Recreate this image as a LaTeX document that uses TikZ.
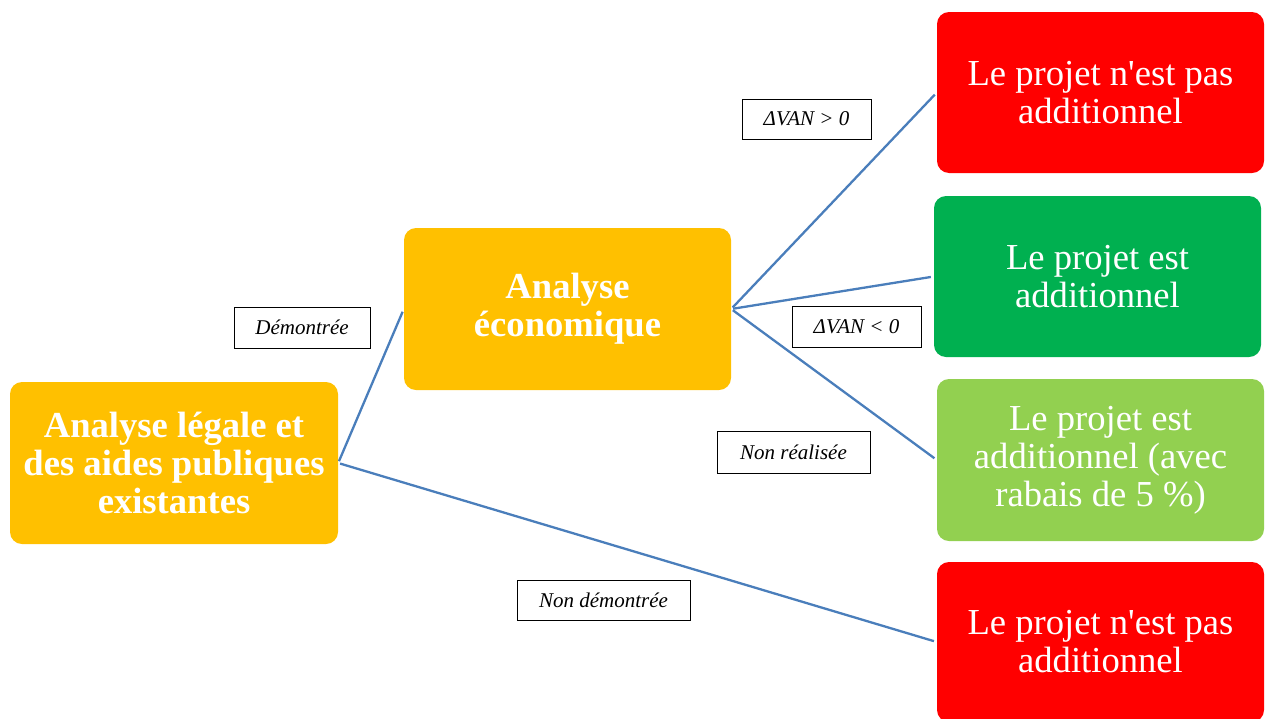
\documentclass[tikz,border=0pt]{standalone}
\usepackage{fontspec}
\setmainfont{Liberation Serif}
\definecolor{gold}{RGB}{255,192,0}
\definecolor{bred}{RGB}{255,0,0}
\definecolor{dgreen}{RGB}{0,176,80}
\definecolor{lgreen}{RGB}{146,208,80}
\definecolor{linkblue}{RGB}{74,126,187}
\begin{document}
\begin{tikzpicture}[x=1pt,y=-1pt,
  box/.style={rectangle,rounded corners=12pt,draw=none,text=white,align=center,
    inner sep=0pt,minimum width=327pt,minimum height=162pt,
    font=\fontsize{36.6}{38}\selectfont},
  bbox/.style={box,font=\fontsize{36.6}{38}\selectfont\bfseries},
  lab/.style={rectangle,draw=black,line width=1pt,fill=white,inner sep=0pt,
    font=\fontsize{21}{24}\selectfont\itshape},
  link/.style={draw=linkblue,line width=2.3pt,shorten <=2pt,shorten >=3pt}]
\useasboundingbox (0,0) rectangle (1265,718);
\node[bbox,fill=gold,minimum width=328pt] (legal) at (174,463) {Analyse légale et\\des aides publiques\\existantes};
\node[bbox,fill=gold] (eco) at (567.5,309) {Analyse\\économique};
\node[box,fill=bred,minimum height=161pt] (r1) at (1100.5,92.5) {Le projet n\textquotesingle est pas\\additionnel};
\node[box,fill=dgreen,minimum height=161pt] (r2) at (1097.5,276.5) {Le projet est\\additionnel};
\node[box,fill=lgreen] (r3) at (1100.5,460) {Le projet est\\additionnel (avec\\rabais de 5 \%)};
\node[box,fill=bred,minimum height=160pt] (r4) at (1100.5,642) {Le projet n\textquotesingle est pas\\additionnel};
\draw[link] (legal.east) -- (eco.west);
\draw[link] (legal.east) -- (r4.west);
\draw[link] (eco.east) -- (r1.west);
\draw[link] (eco.east) -- (r2.west);
\draw[link] (eco.east) -- (r3.west);
\node[lab,minimum width=136pt,minimum height=41pt] (l1) at (302,327.5) {\raisebox{-3pt}{Démontrée}};
\node[lab,minimum width=129pt,minimum height=40pt] (l2) at (806.5,119) {\raisebox{-3pt}{ΔVAN > 0}};
\node[lab,minimum width=129pt,minimum height=41pt] (l3) at (856.5,326.5) {\raisebox{-3pt}{ΔVAN < 0}};
\node[lab,minimum width=153pt,minimum height=42pt] (l4) at (793.5,452) {\raisebox{-3pt}{Non réalisée}};
\node[lab,minimum width=173pt,minimum height=40pt] (l5) at (603.5,600) {\raisebox{-3pt}{Non démontrée}};
\end{tikzpicture}
\end{document}
